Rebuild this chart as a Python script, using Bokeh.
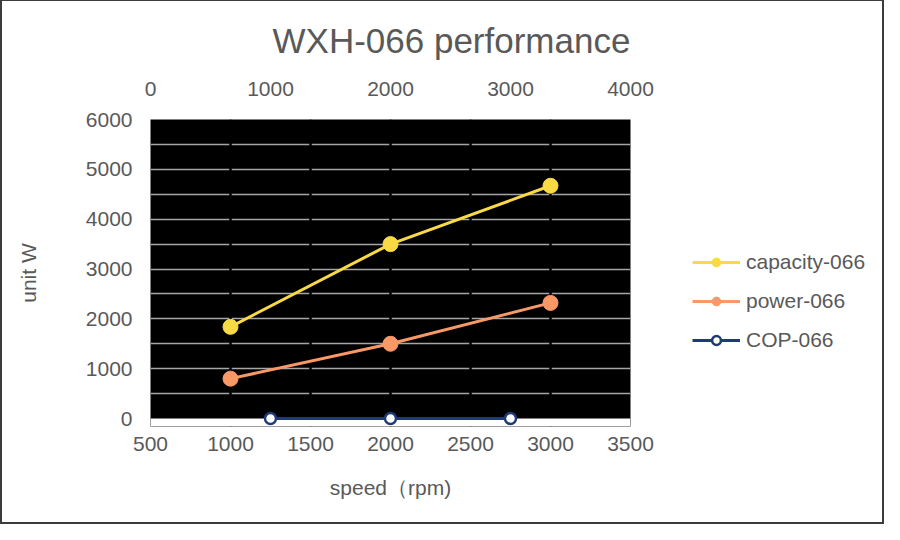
from bokeh.plotting import figure
from bokeh.layouts import row
from bokeh.models import (Range1d, LinearAxis, SingleIntervalTicker, FixedTicker,
                          Legend, LegendItem, Grid, BoxAnnotation)
from bokeh.embed import file_html
from bokeh.resources import INLINE

# ---- data ----
speed = [1000, 2000, 3000]
capacity = [1840, 3500, 4670]
power = [800, 1500, 2320]
cop_speed = [1000, 2000, 3000]
cop = [2.4, 2.4, 2.0]
series_names = ["capacity-066", "power-066", "COP-066"]
grid_levels = [500, 1000, 1500, 2000, 2500, 3000, 3500, 4000, 4500, 5000, 5500, 6000]

FONT = "Liberation Sans"
TXT = "#595959"
CAP_C = "#F9DA45"
POW_C = "#FA9966"
COP_C = "#1F3A78"
EDGE = "#3C3C3C"

p = figure(width=660, height=524, output_backend="svg", toolbar_location=None,
           x_range=Range1d(500, 3500), y_range=Range1d(-160, 6000),
           x_axis_location=None, y_axis_location=None)
p.extra_x_ranges = {"top": Range1d(0, 4000)}

p.min_border_left = 150
p.min_border_right = 30
p.min_border_top = 118
p.min_border_bottom = 98

p.background_fill_color = "black"
p.border_fill_alpha = 0
p.outline_line_color = None
p.styles = {"background-color": "white",
            "box-shadow": f"inset 2px 0 0 0 {EDGE}, inset 0 1px 0 0 {EDGE}, inset 0 -2px 0 0 {EDGE}"}

p.title.text = "WXH-066 performance"
p.title.align = "left"
p.title.offset = 122
p.title.text_font = FONT
p.title.text_font_size = "35px"
p.title.text_font_style = "normal"
p.title.text_color = TXT
p.title.standoff = 37

def style_axis(ax):
    ax.axis_line_color = None
    ax.major_tick_line_color = None
    ax.minor_tick_line_color = None
    ax.major_label_text_font = FONT
    ax.major_label_text_font_size = "21px"
    ax.major_label_text_color = TXT
    ax.axis_label_text_font = FONT
    ax.axis_label_text_font_size = "21px"
    ax.axis_label_text_color = TXT
    ax.axis_label_text_font_style = "normal"

bottom = LinearAxis(ticker=SingleIntervalTicker(interval=500), axis_label="speed（rpm)")
style_axis(bottom)
bottom.major_label_standoff = 4
bottom.axis_label_standoff = 22
p.add_layout(bottom, "below")

left = LinearAxis(ticker=SingleIntervalTicker(interval=1000), axis_label="unit W")
style_axis(left)
left.major_label_standoff = 12
left.axis_label_standoff = 43
p.add_layout(left, "left")

top = LinearAxis(x_range_name="top", ticker=SingleIntervalTicker(interval=1000))
style_axis(top)
top.major_label_standoff = 18
p.add_layout(top, "above")

# grids: grey horizontal lines, black vertical lines cutting small gaps
yg = Grid(dimension=1, ticker=FixedTicker(ticks=grid_levels),
          grid_line_color="#A6A6A6", grid_line_width=1.5)
xg = Grid(dimension=0, ticker=SingleIntervalTicker(interval=500),
          grid_line_color="black", grid_line_width=2.5)
below_zero = BoxAnnotation(top=0, fill_color="white", fill_alpha=1,
                           line_color=None, level="underlay")
p.center = [yg, xg, below_zero]

p.line(speed, capacity, line_color=CAP_C, line_width=3)
p.scatter(speed, capacity, size=15, fill_color=CAP_C, line_color=CAP_C)
p.line(speed, power, line_color=POW_C, line_width=3)
p.scatter(speed, power, size=15, fill_color=POW_C, line_color=POW_C)
p.line(cop_speed, cop, x_range_name="top", line_color=COP_C, line_width=3)
p.scatter(cop_speed, cop, x_range_name="top", size=11, fill_color="white",
          line_color=COP_C, line_width=2.5)

# ---- legend panel (separate figure on the right; its copies of the series
#      lie outside its visible range, only the legend shows) ----
q = figure(width=224, height=524, output_backend="svg", toolbar_location=None,
           x_range=Range1d(0, 1), y_range=Range1d(0, 1),
           x_axis_location=None, y_axis_location=None, title=None)
q.min_border_left = 0
q.min_border_right = 0
q.min_border_top = 0
q.min_border_bottom = 0
q.grid.visible = False
q.outline_line_color = None
q.background_fill_alpha = 0
q.border_fill_alpha = 0
q.styles = {"background-color": "white",
            "box-shadow": f"inset -2px 0 0 0 {EDGE}, inset 0 1px 0 0 {EDGE}, inset 0 -2px 0 0 {EDGE}"}

l_cap = [q.line(speed, capacity, line_color=CAP_C, line_width=3),
         q.scatter(speed, capacity, size=15, fill_color=CAP_C, line_color=CAP_C)]
l_pow = [q.line(speed, power, line_color=POW_C, line_width=3),
         q.scatter(speed, power, size=15, fill_color=POW_C, line_color=POW_C)]
l_cop = [q.line(cop_speed, cop, line_color=COP_C, line_width=3),
         q.scatter(cop_speed, cop, size=11, fill_color="white", line_color=COP_C, line_width=2.5)]

legend = Legend(items=[
    LegendItem(label=series_names[0], renderers=l_cap),
    LegendItem(label=series_names[1], renderers=l_pow),
    LegendItem(label=series_names[2], renderers=l_cop),
], location=(32, 74))
legend.label_text_font = FONT
legend.label_text_font_size = "21px"
legend.label_text_color = TXT
legend.glyph_width = 48
legend.glyph_height = 22
legend.label_standoff = 6
legend.spacing = 15
legend.padding = 5
legend.margin = 0
legend.border_line_color = None
legend.background_fill_alpha = 0
q.add_layout(legend, "center")

layout = row(p, q, spacing=0)

open("out.html", "w").write(file_html(layout, INLINE))
